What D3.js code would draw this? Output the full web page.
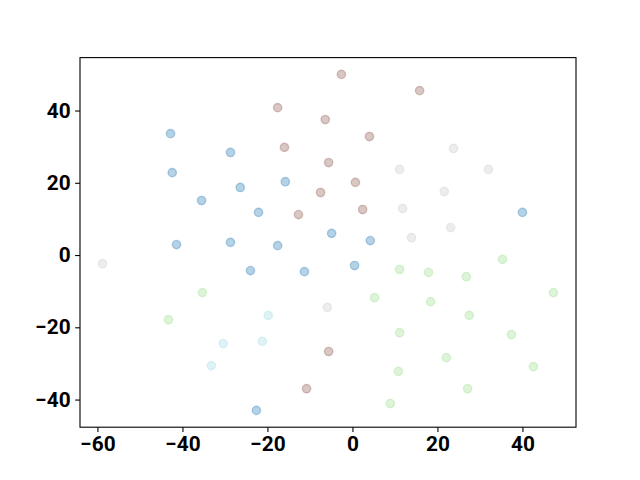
<!DOCTYPE html>
<html>
<head>
<meta charset="utf-8">
<script src="https://cdn.jsdelivr.net/npm/d3@7"></script>
<style>
  body { margin: 0; background: #fff; }
  svg text { font-family: Roboto, "DejaVu Sans", sans-serif; font-weight: bold; }
</style>
</head>
<body>
<svg id="chart"></svg>
<script>
// groups of the scatter, one small array per colour
const groups = ["blue", "brown", "gray", "green", "cyan"];
const groupColors = ["#1f77b4", "#8c564b", "#c7c7c7", "#98df8a", "#9edae5"];

const blueX = [-42.8, -28.7, -42.4, -26.4, -35.5, -15.8, -22.1, -41.4, -28.7, -17.6, -24.0, -11.3, -4.9, 4.2, 0.5, 40.0, -22.6];
const blueY = [33.6, 28.4, 22.8, 18.7, 15.1, 20.3, 11.8, 2.9, 3.5, 2.6, -4.3, -4.6, 6.0, 4.0, -2.9, 11.8, -43.0];

const brownX = [-2.6, -17.6, 15.8, -6.4, 4.0, -16.0, -5.6, 0.7, -7.5, -12.7, 2.4, -5.6, -10.8];
const brownY = [50.0, 40.8, 45.5, 37.5, 32.8, 29.8, 25.6, 20.1, 17.3, 11.2, 12.6, -26.7, -37.0];

const grayX = [11.1, 23.8, 32.0, 21.6, 11.8, 23.1, 13.9, -58.8, -5.9];
const grayY = [23.7, 29.5, 23.7, 17.6, 12.9, 7.6, 4.8, -2.4, -14.5];

const greenX = [11.1, 5.2, 17.9, 26.8, 35.3, 47.3, 18.4, 27.5, 11.1, 37.4, 22.1, 42.6, 10.8, 27.1, 8.9, -35.3, -43.3];
const greenY = [-4.0, -11.8, -4.8, -6.0, -1.2, -10.4, -12.9, -16.7, -21.5, -22.0, -28.4, -30.9, -32.2, -37.0, -41.1, -10.4, -17.9];

const cyanX = [-30.4, -33.2, -19.8, -21.2];
const cyanY = [-24.5, -30.6, -16.7, -23.9];

const xTicks = [-60, -40, -20, 0, 20, 40];
const yTicks = [-40, -20, 0, 20, 40];

const W = 640, H = 480;
const margin = { left: 80, right: 64, top: 57.6, bottom: 52.8 };

const allX = [blueX, brownX, grayX, greenX, cyanX];
const allY = [blueY, brownY, grayY, greenY, cyanY];

let points = [];
groups.forEach((g, i) => {
	allX[i].forEach((x, j) => points.push({ group: g, color: groupColors[i], x: x, y: allY[i][j] }));
});

// matplotlib style 5% margins around the data
function padded(ext) {
	const p = (ext[1] - ext[0]) * 0.05;
	return [ext[0] - p, ext[1] + p];
}

const x = d3.scaleLinear()
	.domain(padded(d3.extent(points, d => d.x)))
	.range([margin.left, W - margin.right]);

const y = d3.scaleLinear()
	.domain(padded(d3.extent(points, d => d.y)))
	.range([H - margin.bottom, margin.top]);

let svg = d3.select("#chart")
	.attr("width", W)
	.attr("height", H);

let dots = svg.append("g");

dots.selectAll("circle")
	.data(points)
	.enter()
	.append("circle")
	.attr("cx", d => x(d.x))
	.attr("cy", d => y(d.y))
	.attr("r", 4.17)
	.attr("fill", d => d.color)
	.attr("fill-opacity", 0.33)
	.attr("stroke", d => d.color)
	.attr("stroke-opacity", 0.33)
	.attr("stroke-width", 1.39);

const fmt = d => d3.format("d")(d).replace("-", "\u2212");

let xAxis = svg.append("g")
	.attr("transform", `translate(0,${H - margin.bottom})`)
	.call(d3.axisBottom(x).tickValues(xTicks).tickSize(4.86).tickPadding(4.5).tickFormat(fmt));

let yAxis = svg.append("g")
	.attr("transform", `translate(${margin.left},0)`)
	.call(d3.axisLeft(y).tickValues(yTicks).tickSize(4.86).tickPadding(4.5).tickFormat(fmt));

[xAxis, yAxis].forEach(a => {
	a.select(".domain").remove();
	a.selectAll("line").attr("stroke", "#000").attr("stroke-width", 1.1);
	a.selectAll("text").attr("font-size", "20.8px").attr("fill", "#000");
});

svg.append("rect")
	.attr("x", margin.left)
	.attr("y", margin.top)
	.attr("width", W - margin.left - margin.right)
	.attr("height", H - margin.top - margin.bottom)
	.attr("fill", "none")
	.attr("stroke", "#000")
	.attr("stroke-width", 1.1);
</script>
</body>
</html>
